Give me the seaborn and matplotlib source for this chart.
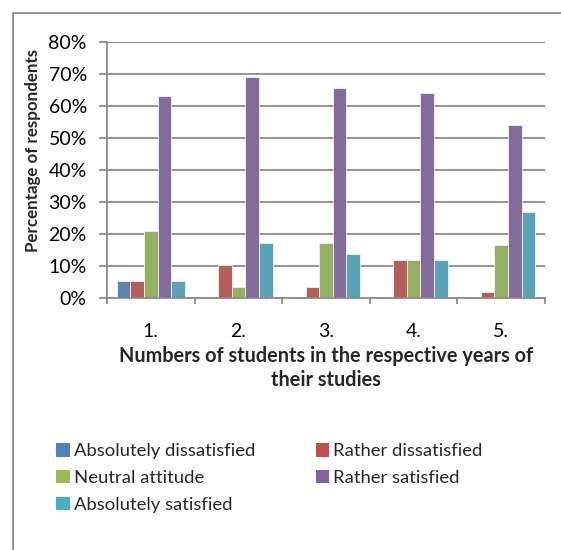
import matplotlib
matplotlib.use("Agg")
import matplotlib.pyplot as plt
import seaborn as sns
import pandas as pd
from matplotlib.ticker import FixedLocator, FuncFormatter
from matplotlib.patches import Rectangle

# Survey results by year of study (percent of respondents)
years = ["1.", "2.", "3.", "4.", "5."]
absolutely_dissatisfied = [5.3, 0.0, 0.0, 0.0, 0.0]
rather_dissatisfied = [5.3, 10.3, 3.4, 11.9, 1.9]
neutral_attitude = [21.0, 3.4, 17.2, 11.9, 16.6]
rather_satisfied = [63.2, 69.0, 65.5, 64.0, 54.2]
absolutely_satisfied = [5.3, 17.2, 13.8, 11.9, 27.0]

answers = ["Absolutely dissatisfied", "Rather dissatisfied", "Neutral attitude",
           "Rather satisfied", "Absolutely satisfied"]
series = [absolutely_dissatisfied, rather_dissatisfied, neutral_attitude,
          rather_satisfied, absolutely_satisfied]
colors = ["#4F81BD", "#C0504D", "#9BBB59", "#8064A2", "#4BACC6"]
y_ticks = [0, 10, 20, 30, 40, 50, 60, 70, 80]

rows = []
for name, vals in zip(answers, series):
    for yr, v in zip(years, vals):
        rows.append({"year": yr, "answer": name, "value": v})
df = pd.DataFrame(rows)

sns.set_theme(style="white")
plt.rcParams["font.family"] = ["Lato", "DejaVu Sans"]

W, H = 561, 550
fig = plt.figure(figsize=(W / 100, H / 100), dpi=100)
ax = fig.add_axes([107 / W, 1 - 298 / H, (545 - 107) / W, (298 - 42) / H])

sns.barplot(data=df, x="year", y="value", hue="answer", hue_order=answers,
            order=years, palette=colors, width=0.78, gap=0, ax=ax,
            edgecolor="#f2f2f2", linewidth=0.6, legend=False, errorbar=None)

grid_c = "#8a8a8a"
ax.set_ylim(0, 80)
ax.set_xlim(-0.5, 4.5)
ax.yaxis.set_major_locator(FixedLocator(y_ticks))
ax.yaxis.set_major_formatter(FuncFormatter(lambda v, p: f"{v:.0f}%"))
ax.set_axisbelow(True)
ax.grid(axis="y", color=grid_c, linewidth=1.3)
ax.grid(axis="x", visible=False)

for s in ["top", "right"]:
    ax.spines[s].set_visible(False)
for s in ["left", "bottom"]:
    ax.spines[s].set_color(grid_c)
    ax.spines[s].set_linewidth(1.3)

ax.tick_params(axis="y", which="major", direction="out", length=5.5, width=1.3,
               color=grid_c, labelsize=14, labelcolor="black", pad=9, left=True)
ax.tick_params(axis="x", which="major", length=0, labelsize=14,
               labelcolor="black", pad=18)
ax.set_xticks([-0.5, 0.5, 1.5, 2.5, 3.5, 4.5], minor=True)
ax.tick_params(axis="x", which="minor", direction="out", length=4.5, width=1.3,
               color=grid_c, bottom=True)

ax.set_xlabel("")
ax.set_ylabel("")
fig.text(33 / W, 1 - 150 / H, "Percentage of respondents", rotation=90,
         ha="center", va="center", fontsize=12.2, fontweight="bold")
fig.text(326 / W, 1 - 368 / H,
         "Numbers of students in the respective years of\ntheir studies",
         ha="center", va="center", fontsize=14.3, fontweight="bold",
         linespacing=1.3)

# Legend in two columns, filled row by row
order = [0, 2, 4, 1, 3]
handles = [Rectangle((0, 0), 1, 1, facecolor=colors[i], edgecolor="none") for i in order]
labels = [answers[i] for i in order]
fig.legend(handles, labels, loc="upper left", bbox_to_anchor=(49 / W, 1 - 436 / H),
           ncol=2, frameon=False, fontsize=13.3, handlelength=0.72,
           handleheight=0.72, handletextpad=0.22, columnspacing=3.3,
           labelspacing=0.58, borderaxespad=0)

# Outer chart frame
fig.add_artist(Rectangle((13 / W, -0.1), 1.2, 1 - 13 / H + 0.1,
                         transform=fig.transFigure, fill=False,
                         edgecolor="#8a8a8a", linewidth=1.3))

fig.savefig("out.png", dpi=100)
